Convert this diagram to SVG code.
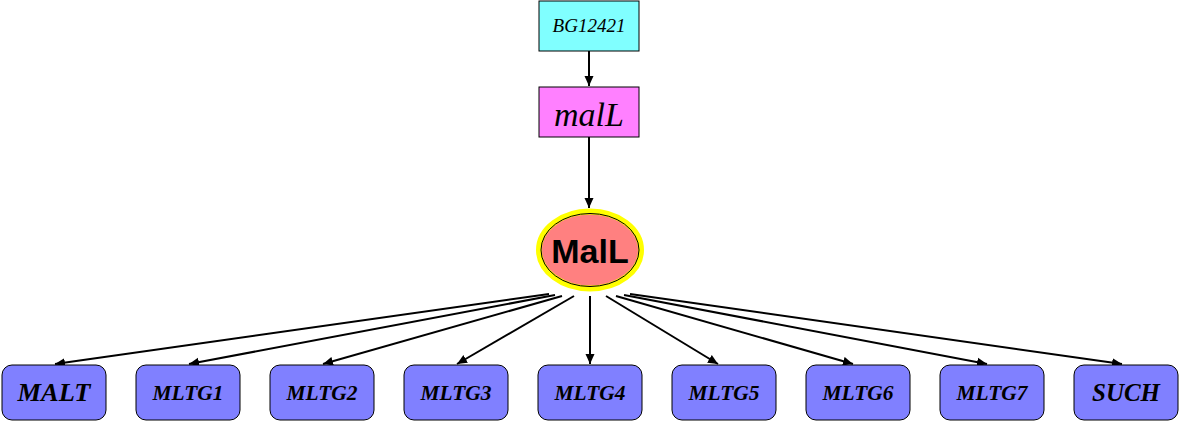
<svg xmlns="http://www.w3.org/2000/svg" width="1180" height="422" viewBox="0 0 1180 422">
<style>
.bx{fill:#8080ff;stroke:#000;stroke-width:1}
.lb{font-family:"Liberation Serif",serif;font-style:italic;font-weight:bold;font-size:22px;text-anchor:middle}
.lb2{font-size:25px}
.e{stroke:#000;stroke-width:2;fill:none;marker-end:url(#ah)}
</style>
<defs>
<marker id="ah" markerUnits="userSpaceOnUse" markerWidth="10" markerHeight="10" viewBox="0 0 10 10" refX="10" refY="5" orient="auto">
<path d="M0,0.5 L10,5 L0,9.5 Z" fill="#000"/>
</marker>
</defs>
<rect width="1180" height="422" fill="#fff"/>
<g id="connectors">
<line class="e" x1="589" y1="51" x2="589" y2="86"/>
<line class="e" x1="589" y1="137" x2="589" y2="208"/>
<line class="e" x1="549" y1="294" x2="55" y2="364"/>
<line class="e" x1="555" y1="295" x2="189" y2="364"/>
<line class="e" x1="562" y1="296" x2="323" y2="364"/>
<line class="e" x1="574" y1="296" x2="457" y2="364"/>
<line class="e" x1="590" y1="296" x2="590" y2="364"/>
<line class="e" x1="606" y1="296" x2="718" y2="364"/>
<line class="e" x1="616" y1="296" x2="853" y2="364"/>
<line class="e" x1="624" y1="295" x2="987" y2="364"/>
<line class="e" x1="630" y1="294" x2="1122" y2="364"/>
</g>
<g id="BG12421">
<rect x="539" y="1" width="100" height="50" fill="#80ffff" stroke="#000"/>
<text x="589" y="32" font-family="Liberation Serif,serif" font-style="italic" font-size="18" text-anchor="middle" textLength="73" lengthAdjust="spacingAndGlyphs">BG12421</text>
</g>
<g id="malL">
<rect x="539" y="87" width="100" height="50" fill="#ff80ff" stroke="#000"/>
<text x="589" y="126" font-family="Liberation Serif,serif" font-style="italic" font-size="34" text-anchor="middle">malL</text>
</g>
<g id="MalL">
<ellipse cx="590" cy="250" rx="51" ry="38.5" fill="#ff8080" stroke="#ffff00" stroke-width="6"/>
<ellipse cx="590" cy="250" rx="49" ry="36.5" fill="none" stroke="#000" stroke-width="1"/>
<text x="590" y="263" font-family="Liberation Sans,Arial,sans-serif" font-weight="bold" font-size="34" text-anchor="middle">MalL</text>
</g>
<g id="MALT"><rect class="bx" x="2" y="365" width="104" height="55" rx="10"/><text class="lb lb2" x="54" y="401" textLength="73" lengthAdjust="spacingAndGlyphs">MALT</text></g>
<g id="MLTG1"><rect class="bx" x="136" y="365" width="104" height="55" rx="10"/><text class="lb" x="188" y="400" textLength="71" lengthAdjust="spacingAndGlyphs">MLTG1</text></g>
<g id="MLTG2"><rect class="bx" x="270" y="365" width="104" height="55" rx="10"/><text class="lb" x="322" y="400" textLength="71" lengthAdjust="spacingAndGlyphs">MLTG2</text></g>
<g id="MLTG3"><rect class="bx" x="404" y="365" width="104" height="55" rx="10"/><text class="lb" x="456" y="400" textLength="71" lengthAdjust="spacingAndGlyphs">MLTG3</text></g>
<g id="MLTG4"><rect class="bx" x="538" y="365" width="104" height="55" rx="10"/><text class="lb" x="590" y="400" textLength="71" lengthAdjust="spacingAndGlyphs">MLTG4</text></g>
<g id="MLTG5"><rect class="bx" x="672" y="365" width="104" height="55" rx="10"/><text class="lb" x="724" y="400" textLength="71" lengthAdjust="spacingAndGlyphs">MLTG5</text></g>
<g id="MLTG6"><rect class="bx" x="806" y="365" width="104" height="55" rx="10"/><text class="lb" x="858" y="400" textLength="71" lengthAdjust="spacingAndGlyphs">MLTG6</text></g>
<g id="MLTG7"><rect class="bx" x="940" y="365" width="104" height="55" rx="10"/><text class="lb" x="992" y="400" textLength="71" lengthAdjust="spacingAndGlyphs">MLTG7</text></g>
<g id="SUCH"><rect class="bx" x="1074" y="365" width="104" height="55" rx="10"/><text class="lb lb2" x="1126" y="401" textLength="68" lengthAdjust="spacingAndGlyphs">SUCH</text></g>
</svg>
